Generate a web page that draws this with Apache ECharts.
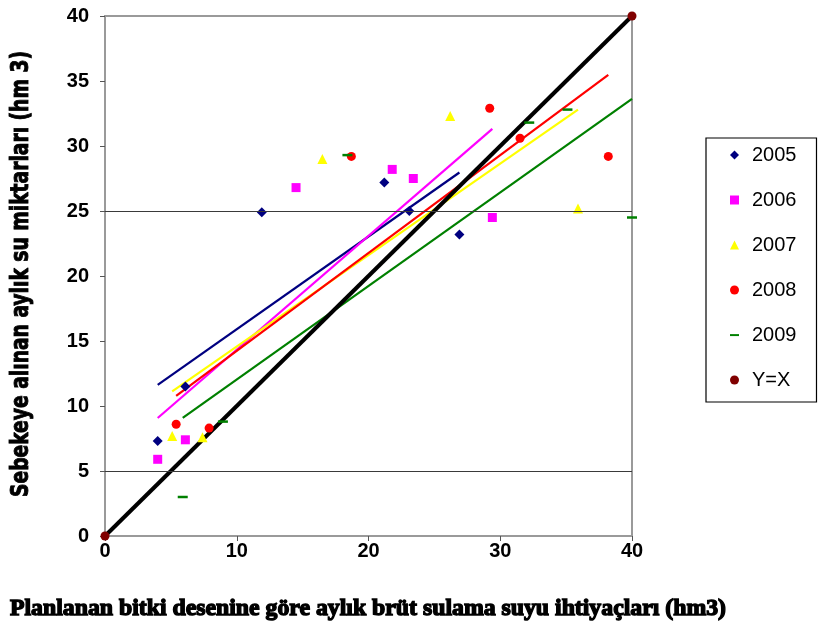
<!DOCTYPE html>
<html>
<head>
<meta charset="utf-8">
<script src="https://cdn.jsdelivr.net/npm/echarts@6/dist/echarts.min.js"></script>
<style>
  html, body { margin: 0; padding: 0; background: #fff; }
  #chart { width: 820px; height: 630px; }
</style>
</head>
<body>
<div id="chart"></div>
<script>
// Monthly water volumes per year: planned gross irrigation need (x) vs. water delivered to the network (y), hm3
const seriesNames = ['2005', '2006', '2007', '2008', '2009', 'Y=X'];

const x2005 = [4.0, 6.1, 11.9, 21.2, 23.1, 26.9];
const y2005 = [7.3, 11.5, 24.9, 27.2, 25.0, 23.2];

const x2006 = [4.0, 6.1, 14.5, 21.8, 23.4, 29.4];
const y2006 = [5.9, 7.4, 26.8, 28.2, 27.5, 24.5];

const x2007 = [5.1, 7.4, 16.5, 26.2, 35.9];
const y2007 = [7.7, 7.6, 29.0, 32.3, 25.2];

const x2008 = [5.4, 7.9, 18.7, 29.2, 31.5, 38.2];
const y2008 = [8.6, 8.3, 29.2, 32.9, 30.6, 29.2];

const x2009 = [5.9, 8.95, 18.4, 32.2, 35.1, 40.0];
const y2009 = [3.0, 8.8, 29.3, 31.8, 32.8, 24.5];

const xIdentity = [0, 40];
const yIdentity = [0, 40];

// horizontal reference lines
const refLevels = [5, 25];

const xTitle = 'Planlanan bitki desenine göre aylık brüt sulama suyu ihtiyaçları (hm3)';
const yTitle = 'Sebekeye alınan aylık su miktarları (hm 3)';

const colors = {
  '2005': '#000080',
  '2006': '#FF00FF',
  '2007': '#FFFF00',
  '2008': '#FF0000',
  '2009': '#008000',
  'Y=X': '#800000'
};

// legend icon for the dash marker: invisible corner points keep the bar thin
const dashIcon = 'path://M0,0L0,0M0,4L10,4L10,6.2L0,6.2ZM10,10L10,10';
const legendIcons = {
  '2005': 'diamond',
  '2006': 'rect',
  '2007': 'triangle',
  '2008': 'circle',
  '2009': dashIcon,
  'Y=X': 'circle'
};
const symbols = {
  '2005': 'diamond',
  '2006': 'rect',
  '2007': 'triangle',
  '2008': 'circle',
  '2009': 'rect',
  'Y=X': 'circle'
};
const symbolSizes = {
  '2005': 10,
  '2006': 9,
  '2007': 10,
  '2008': 9,
  '2009': [10, 2.5],
  'Y=X': 9
};

const pairs = (xs, ys) => xs.map((x, i) => [x, ys[i]]);

// least-squares linear trend spanning the series' x range
function trend(xs, ys) {
  const n = xs.length;
  const mx = xs.reduce((a, b) => a + b, 0) / n;
  const my = ys.reduce((a, b) => a + b, 0) / n;
  let sxy = 0, sxx = 0;
  for (let i = 0; i < n; i++) {
    sxy += (xs[i] - mx) * (ys[i] - my);
    sxx += (xs[i] - mx) * (xs[i] - mx);
  }
  const b = sxy / sxx;
  const a = my - b * mx;
  const x0 = Math.min(...xs), x1 = Math.max(...xs);
  return [[x0, a + b * x0], [x1, a + b * x1]];
}

const yearData = {
  '2005': [x2005, y2005],
  '2006': [x2006, y2006],
  '2007': [x2007, y2007],
  '2008': [x2008, y2008],
  '2009': [x2009, y2009]
};

function fitScale(text, font, target) {
  const ctx = document.createElement('canvas').getContext('2d');
  ctx.font = font;
  return target / ctx.measureText(text).width;
}

const xTitleFont = 'bold 24px "Liberation Serif"';
const yTitleFont = 'bold 22px "DejaVu Sans Condensed", "Liberation Sans Narrow", sans-serif';

const series = [];

// trend lines
Object.keys(yearData).forEach((name, i) => {
  const [xs, ys] = yearData[name];
  const s = {
    name: 'trend-' + name,
    type: 'line',
    data: trend(xs, ys),
    showSymbol: false,
    silent: true,
    z: 2,
    lineStyle: { color: colors[name], width: 2.2 },
    itemStyle: { color: colors[name] }
  };
  if (i === 0) {
    s.markLine = {
      silent: true,
      symbol: 'none',
      label: { show: false },
      lineStyle: { color: '#3a3a3a', width: 1.2, type: 'solid' },
      data: refLevels.map(v => ({ yAxis: v }))
    };
  }
  series.push(s);
});

// identity line with its end markers
series.push({
  name: 'Y=X',
  type: 'line',
  data: pairs(xIdentity, yIdentity),
  symbol: 'circle',
  symbolSize: symbolSizes['Y=X'],
  showSymbol: true,
  z: 3,
  lineStyle: { color: '#000', width: 4 },
  itemStyle: { color: colors['Y=X'] }
});

// yearly observations
Object.keys(yearData).forEach(name => {
  const [xs, ys] = yearData[name];
  series.push({
    name: name,
    type: 'scatter',
    data: pairs(xs, ys),
    symbol: symbols[name],
    symbolSize: symbolSizes[name],
    z: 4,
    itemStyle: { color: colors[name], opacity: 1 }
  });
});

const chart = echarts.init(document.getElementById('chart'), null, { renderer: 'canvas' });

const tickFont = { color: '#000', fontSize: 20, fontWeight: 'bold', fontFamily: 'Liberation Sans, Arial, sans-serif' };

chart.setOption({
  animation: false,
  backgroundColor: '#fff',
  grid: {
    left: 105, right: 188, top: 16, bottom: 94,
    show: true, borderColor: '#9a9a9a', borderWidth: 2,
    backgroundColor: 'transparent'
  },
  xAxis: {
    type: 'value', min: 0, max: 40, interval: 10,
    axisLine: { show: true, lineStyle: { color: '#9a9a9a', width: 2 } },
    axisTick: { show: true, inside: false, length: 5, lineStyle: { color: '#555', width: 1 } },
    axisLabel: Object.assign({ margin: 5 }, tickFont),
    splitLine: { show: false }
  },
  yAxis: {
    type: 'value', min: 0, max: 40, interval: 5,
    axisLine: { show: true, lineStyle: { color: '#9a9a9a', width: 2 } },
    axisTick: { show: true, inside: false, length: 5, lineStyle: { color: '#555', width: 1 } },
    axisLabel: Object.assign({ margin: 16 }, tickFont),
    splitLine: { show: false }
  },
  legend: {
    orient: 'vertical',
    left: 706, top: 138,
    padding: [7, 20, 12, 24],
    itemGap: 25,
    itemWidth: 9, itemHeight: 9,
    borderColor: '#000', borderWidth: 1.2,
    textStyle: { color: '#000', fontSize: 20, fontFamily: 'Liberation Sans, Arial, sans-serif', padding: [0, 0, 0, 8] },
    data: seriesNames.map(n => ({ name: n, icon: legendIcons[n] })),
    selectedMode: false
  },
  graphic: [
    {
      type: 'text',
      x: 368, y: 609,
      scaleX: fitScale(xTitle, xTitleFont, 716),
      silent: true,
      style: { text: xTitle, font: xTitleFont, fill: '#000', stroke: '#000', lineWidth: 1.4, align: 'center', verticalAlign: 'middle' }
    },
    {
      type: 'text',
      x: 22, y: 274,
      rotation: Math.PI / 2,
      scaleX: fitScale(yTitle, yTitleFont, 446),
      scaleY: 1.1,
      silent: true,
      style: { text: yTitle, font: yTitleFont, fill: '#000', stroke: '#000', lineWidth: 0.8, align: 'center', verticalAlign: 'middle' }
    }
  ],
  series: series
});
</script>
</body>
</html>
